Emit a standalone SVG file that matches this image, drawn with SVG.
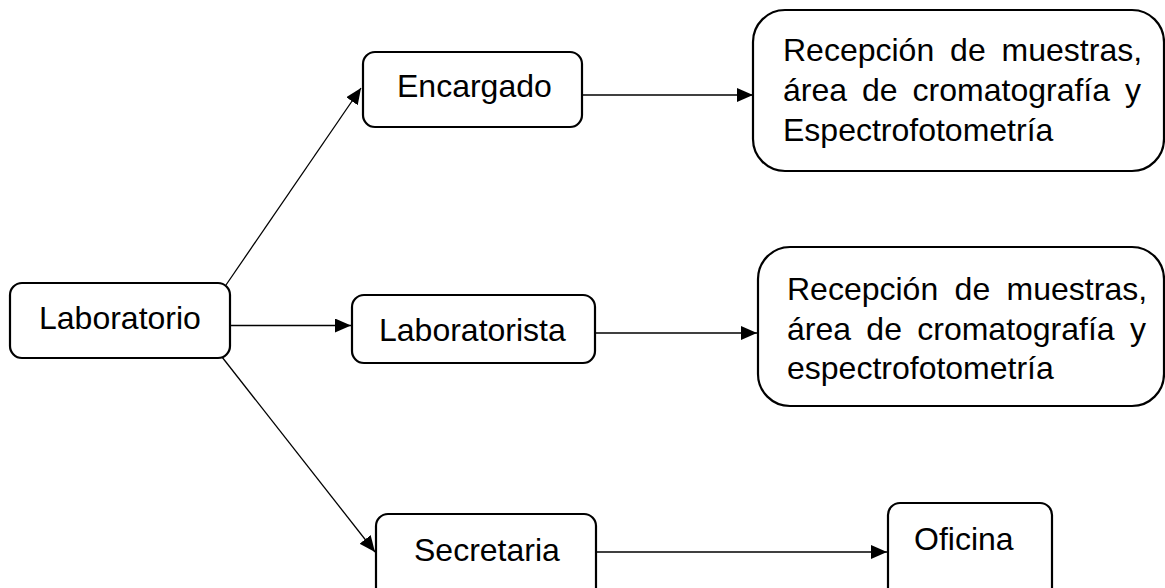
<svg xmlns="http://www.w3.org/2000/svg" width="1165" height="588" viewBox="0 0 1165 588">
  <style>
    .box { fill: #ffffff; stroke: #000000; stroke-width: 2.2; }
    .lbl { font-family: "Liberation Sans", Arial, sans-serif; font-size: 32px; fill: #000000; }
    .edge { stroke: #000000; stroke-width: 1.3; fill: none; marker-end: url(#arr); }
  </style>
  <defs>
    <marker id="arr" markerUnits="userSpaceOnUse" markerWidth="17" markerHeight="15" refX="16" refY="7" orient="auto">
      <path d="M0,0 L16,7 L0,14 z" fill="#000000"/>
    </marker>
  </defs>
  <rect width="1165" height="588" fill="#ffffff"/>
  <g id="edges">
    <line class="edge" x1="226" y1="285" x2="361" y2="88"/>
    <line class="edge" x1="230" y1="325.5" x2="351" y2="325.5"/>
    <line class="edge" x1="222" y1="357" x2="375" y2="552"/>
    <line class="edge" x1="582" y1="95" x2="753" y2="95"/>
    <line class="edge" x1="595" y1="333" x2="757" y2="333"/>
    <line class="edge" x1="596" y1="552" x2="887" y2="552"/>
  </g>
  <g id="laboratorio">
    <rect class="box" x="10" y="283" width="220" height="75" rx="12"/>
    <text class="lbl" x="39" y="329">Laboratorio</text>
  </g>
  <g id="encargado">
    <rect class="box" x="363" y="52" width="219" height="75" rx="12"/>
    <text class="lbl" x="397" y="97">Encargado</text>
  </g>
  <g id="laboratorista">
    <rect class="box" x="352" y="295" width="243" height="68" rx="12"/>
    <text class="lbl" x="379" y="341">Laboratorista</text>
  </g>
  <g id="secretaria">
    <rect class="box" x="376" y="514" width="220" height="90" rx="12"/>
    <text class="lbl" x="414" y="561">Secretaria</text>
  </g>
  <g id="oficina">
    <rect class="box" x="888" y="503" width="164" height="100" rx="12"/>
    <text class="lbl" x="914" y="550">Oficina</text>
  </g>
  <g id="recepcion1">
    <rect class="box" x="753" y="10" width="411" height="161" rx="32"/>
    <text class="lbl" x="783" y="61" word-spacing="7">Recepción de muestras,</text>
    <text class="lbl" x="783" y="101" word-spacing="6.1">área de cromatografía y</text>
    <text class="lbl" x="783" y="141">Espectrofotometría</text>
  </g>
  <g id="recepcion2">
    <rect class="box" x="758" y="247" width="406" height="159" rx="32"/>
    <text class="lbl" x="787" y="300" word-spacing="7.5">Recepción de muestras,</text>
    <text class="lbl" x="787" y="340" word-spacing="6.4">área de cromatografía y</text>
    <text class="lbl" x="787" y="379">espectrofotometría</text>
  </g>
</svg>
